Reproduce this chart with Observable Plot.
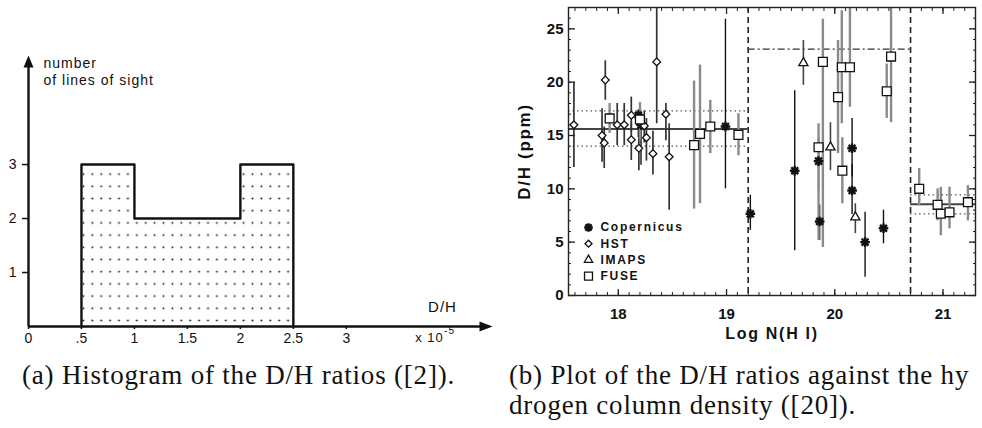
<!DOCTYPE html>
<html><head><meta charset="utf-8">
<script src="https://cdn.jsdelivr.net/npm/d3@7"></script>
<script src="https://cdn.jsdelivr.net/npm/@observablehq/plot@0.6"></script>
<style>
html,body{margin:0;padding:0;background:#fff;}
#root{position:relative;width:982px;height:428px;overflow:hidden;background:#fff;}
#pa{position:absolute;left:0;top:0;}
#pb{position:absolute;left:500px;top:0;}
#pa g[aria-label="text"] text{letter-spacing:1px;}
#pb g[aria-label="text"] text{letter-spacing:1.7px;}
.cap{position:absolute;font-family:"Liberation Serif","Times New Roman",serif;font-size:27px;letter-spacing:0.8px;line-height:30px;white-space:nowrap;color:#111;}
</style></head><body>
<div id="root">
  <div id="pa"></div>
  <div id="pb"></div>
  <div class="cap" id="capa" style="left:22px;top:360px"></div>
  <div class="cap" id="capb" style="left:509px;top:360px"></div>
</div>
<script>
// ---------- Panel (a): histogram of D/H ----------
const binLo = [0.5, 1, 2];
const binHi = [1, 2, 2.5];
const binCount = [3, 2, 3];
const aXTicks = [0, 0.5, 1, 1.5, 2, 2.5, 3];
const aXTickLabels = ["0", ".5", "1", "1.5", "2", "2.5", "3"];
const aYTicks = [1, 2, 3];
const aYTickLabels = ["1", "2", "3"];
const aYLabel = ["number", "of lines of sight"];
const aXLabel = "D/H";
const aXUnit = "x 10";
const aXUnitExp = "-5";
const aDomainX = [0, 4.38];
const aDomainY = [0, 5.02];

// ---------- Panel (b): D/H vs log N(H I) ----------
// [logN, D/H, errLow, errHigh]
const copernicus = [
  [18.185, 16.9, 14.8, 17.4],
  [18.21, 16.0, 12.2, 17.2],
  [18.99, 15.85, 10.0, 25.9],
  [19.22, 7.66, 6.1, 9.4],
  [19.63, 11.7, 4.2, 19.2],
  [19.85, 12.6, 9.8, 14.8],
  [19.86, 6.94, 5.15, 8.5],
  [20.16, 13.8, 11.1, 16.6],
  [20.16, 9.84, 7.6, 12.3],
  [20.28, 5.0, 1.7, 7.8],
  [20.45, 6.3, 4.85, 8.0]
];
const hst = [
  [17.59, 16.0, 12.0, 20.0],
  [17.85, 15.0, 12.5, 17.5],
  [17.87, 14.3, 11.9, 15.8],
  [17.88, 20.2, 18.3, 22.0],
  [17.99, 16.0, 14.05, 18.0],
  [18.055, 16.0, 14.05, 18.0],
  [18.12, 16.9, 15.3, 18.6],
  [18.12, 14.6, 12.65, 16.2],
  [18.19, 13.8, 11.7, 15.9],
  [18.24, 15.9, 14.3, 17.3],
  [18.26, 14.8, 12.6, 16.6],
  [18.32, 13.3, 11.3, 15.4],
  [18.355, 21.9, 16.1, 27.0],
  [18.44, 17.0, 14.5, 18.0],
  [18.47, 13.0, 8.0, 16.1]
];
const imaps = [
  [19.71, 21.8, 19.7, 23.9],
  [19.96, 13.9, 11.7, 16.2],
  [20.19, 7.34, 5.8, 8.6]
];
const fuse = [
  [17.92, 16.6, 15.2, 18.0],
  [18.2, 16.5, 14.6, 18.1],
  [18.70, 14.1, 8.1, 20.1],
  [18.755, 15.15, 8.6, 21.6],
  [18.85, 15.84, 13.3, 18.3],
  [19.11, 15.06, 13.1, 17.05],
  [19.85, 13.9, 5.15, 16.1],
  [19.89, 21.9, 4.5, 25.9],
  [20.03, 18.6, 13.3, 23.9],
  [20.065, 21.4, 16.1, 26.7],
  [20.07, 11.7, 8.6, 14.8],
  [20.14, 21.4, 17.65, 27.0],
  [20.48, 19.15, 16.6, 21.7],
  [20.52, 22.4, 16.2, 26.9],
  [20.78, 10.0, 8.4, 11.9],
  [20.95, 8.5, 7.0, 10.0],
  [20.98, 7.66, 5.6, 10.15],
  [21.06, 7.8, 6.25, 10.15],
  [21.23, 8.75, 7.0, 10.3]
];
const regionEdges = [17.54, 19.2, 20.7, 21.3];
const regionMean = [15.6, null, 8.55];
const regionSigmaLo = [14.0, null, 7.66];
const regionSigmaHi = [17.3, null, 9.44];
const regionUpper = [null, 23.1, null];
const bXMajor = [18, 19, 20, 21];
const bYMajor = [0, 5, 10, 15, 20, 25];
const bDomainX = [17.54, 21.3];
const bDomainY = [0, 27];
const legendNames = ["Copernicus", "HST", "IMAPS", "FUSE"];
const bXLabel = "Log N(H I)";
const bYLabel = "D/H (ppm)";

const captionA = "(a) Histogram of the D/H ratios ([2]).";
const captionB = ["(b) Plot of the D/H ratios against the hy", "drogen column density ([20])."];

// ---------- symbols ----------
const arrowUp = {draw(ctx){ctx.moveTo(0,0);ctx.lineTo(5,12);ctx.lineTo(-5,12);ctx.closePath();}};
const arrowRight = {draw(ctx){ctx.moveTo(0,0);ctx.lineTo(-13,-5);ctx.lineTo(-13,5);ctx.closePath();}};
const starSym = {draw(ctx, size){
  const r = Math.sqrt(size/Math.PI), d = r*0.72;
  ctx.moveTo(-r,0);ctx.lineTo(r,0);ctx.moveTo(0,-r);ctx.lineTo(0,r);
  ctx.moveTo(-d,-d);ctx.lineTo(d,d);ctx.moveTo(-d,d);ctx.lineTo(d,-d);
}};

// ---------- build panel (a) ----------
const bins = binLo.map((lo,i)=>({lo, hi: binHi[i], count: binCount[i]}));
const outline = [{x: binLo[0], y: 0}, ...bins.map(b=>({x: b.lo, y: b.count})), {x: binHi[binHi.length-1], y: 0}];
const aXLabelMap = new Map(aXTicks.map((t,i)=>[t, aXTickLabels[i]]));
const aYLabelMap = new Map(aYTicks.map((t,i)=>[t, aYTickLabels[i]]));
const ink = "#111";
const mid = {textAnchor: "middle", lineAnchor: "middle"};

const plotA = Plot.plot({
  width: 500, height: 350,
  marginLeft: 28, marginRight: 8, marginTop: 55, marginBottom: 24,
  x: {domain: aDomainX}, y: {domain: aDomainY},
  style: {fontFamily: "'Liberation Sans', Arial, sans-serif", fontSize: "14px", color: ink, background: "transparent", overflow: "visible"},
  marks: [
    Plot.rectY(bins, {x1: "lo", x2: "hi", y: "count", fill: "url(#dots)"}),
    Plot.line(outline, {x: "x", y: "y", curve: "step-after", stroke: ink, strokeWidth: 2.4}),
    Plot.ruleY([aDomainY[0]], {stroke: ink, strokeWidth: 2.4, insetRight: 8}),
    Plot.ruleX([aDomainX[0]], {stroke: ink, strokeWidth: 2.4, insetTop: 8}),
    Plot.dot([[aDomainX[0], aDomainY[1]]], {x: d=>d[0], y: d=>d[1], symbol: arrowUp, r: 5, fill: ink, stroke: "none"}),
    Plot.dot([[aDomainX[1], aDomainY[0]]], {x: d=>d[0], y: d=>d[1], symbol: arrowRight, r: 5, fill: ink, stroke: "none"}),
    Plot.axisX(aXTicks, {anchor: "bottom", tickSize: 3, tickPadding: 4, tickFormat: d => aXLabelMap.get(d), label: null, fontSize: 14, strokeWidth: 1.5}),
    Plot.axisY(aYTicks, {anchor: "left", tickSize: 6, tickPadding: 6, tickFormat: d => aYLabelMap.get(d), label: null, fontSize: 14, strokeWidth: 1.5}),
    Plot.text([aYLabel[0]], {frameAnchor: "top-left", dx: 15, dy: 8.5, textAnchor: "start", lineAnchor: "middle", fontSize: 14}),
    Plot.text([aYLabel[1]], {frameAnchor: "top-left", dx: 15, dy: 25, textAnchor: "start", lineAnchor: "middle", fontSize: 14}),
    Plot.text([aXLabel], {frameAnchor: "bottom-right", dx: -50, dy: -19, fontSize: 15, ...mid}),
    Plot.text([aXUnit], {frameAnchor: "bottom-right", dx: -63, dy: 11, fontSize: 13, ...mid}),
    Plot.text([aXUnitExp], {frameAnchor: "bottom-right", dx: -43, dy: 4, fontSize: 10, ...mid})
  ]
});
// dotted pattern
const NS = "http://www.w3.org/2000/svg";
const defs = document.createElementNS(NS, "defs");
const pat = document.createElementNS(NS, "pattern");
pat.setAttribute("id", "dots"); pat.setAttribute("patternUnits", "userSpaceOnUse");
pat.setAttribute("width", "8.9"); pat.setAttribute("height", "12.2");
pat.setAttribute("x", "79"); pat.setAttribute("y", "168");
const c = document.createElementNS(NS, "circle");
c.setAttribute("cx", "4.4"); c.setAttribute("cy", "6.1"); c.setAttribute("r", "1"); c.setAttribute("fill", "#1a1a1a");
pat.appendChild(c); defs.appendChild(pat);
plotA.insertBefore(defs, plotA.firstChild);
document.getElementById("pa").appendChild(plotA);

// ---------- build panel (b) ----------
const regions = regionMean.map((m,i)=>({x1: regionEdges[i], x2: regionEdges[i+1], mean: m, lo: regionSigmaLo[i], hi: regionSigmaHi[i], up: regionUpper[i]}));
const sigmaLines = regions.filter(d=>d.lo!=null).flatMap(d=>[{...d, v: d.lo}, {...d, v: d.hi}]);
const minorX = d3.range(176, 214).map(v=>v/10);
const minorY = d3.range(0, 28);
const series = [
  {name: "Copernicus", data: copernicus, symbol: starSym, r: 4.8, fill: "none", sw: 2.4, bar: "#111", barW: 1.4},
  {name: "HST", data: hst, symbol: "diamond2", r: 3.5, fill: "white", sw: 1.3, bar: "#333", barW: 1.7},
  {name: "IMAPS", data: imaps, symbol: "triangle", r: 3.4, fill: "white", sw: 1.3, bar: "#444", barW: 1.6},
  {name: "FUSE", data: fuse, symbol: "square", r: 5.0, fill: "white", sw: 1.3, bar: "#8a8a8a", barW: 2.4}
];
const bFont = {fontWeight: "bold"};
const plotB = Plot.plot({
  width: 482, height: 345,
  marginLeft: 68, marginRight: 7, marginTop: 7, marginBottom: 50,
  x: {domain: bDomainX}, y: {domain: bDomainY},
  style: {fontFamily: "'Liberation Sans', Arial, sans-serif", fontSize: "15px", fontWeight: "bold", color: ink, background: "transparent", overflow: "visible"},
  marks: [
    Plot.ruleX(regionEdges.slice(1, -1), {stroke: "#222", strokeWidth: 1.6, strokeDasharray: "6,4"}),
    Plot.ruleY(regions.filter(d=>d.mean!=null), {y: "mean", x1: "x1", x2: "x2", stroke: "#444", strokeWidth: 2}),
    Plot.ruleY(sigmaLines, {y: "v", x1: "x1", x2: "x2", stroke: "#555", strokeWidth: 1.3, strokeDasharray: "1.5,3"}),
    Plot.ruleY(regions.filter(d=>d.up!=null), {y: "up", x1: "x1", x2: "x2", stroke: "#333", strokeWidth: 1.3, strokeDasharray: "7,3,2,3"}),
    ...series.map(s => Plot.ruleX(s.data, {x: d=>d[0], y1: d=>d[2], y2: d=>d[3], stroke: s.bar, strokeWidth: s.barW})),
    ...series.map(s => Plot.dot(s.data, {x: d=>d[0], y: d=>d[1], symbol: s.symbol, r: s.r, fill: s.fill, stroke: ink, strokeWidth: s.sw})),
    ...series.map((s,i) => Plot.dot([s.name], {frameAnchor: "bottom-left", dx: 20, dy: -68 + i*16.2, symbol: s.symbol, r: s.r*0.9, fill: s.fill, stroke: ink, strokeWidth: s.sw})),
    ...legendNames.map((n,i) => Plot.text([n], {frameAnchor: "bottom-left", dx: 32, dy: -68 + i*16.2, textAnchor: "start", lineAnchor: "middle", fontSize: 12, ...bFont})),
    Plot.frame({stroke: "#222", strokeWidth: 1.4}),
    Plot.axisX(minorX, {anchor: "bottom", tickSize: -3, tickFormat: () => "", label: null, stroke: "#222"}),
    Plot.axisX(minorX, {anchor: "top", tickSize: -3, tickFormat: () => "", label: null, stroke: "#222"}),
    Plot.axisX(bXMajor, {anchor: "bottom", tickSize: -6, tickFormat: () => "", label: null, stroke: "#222", strokeWidth: 1.3}),
    Plot.axisX(bXMajor, {anchor: "top", tickSize: -6, tickFormat: () => "", label: null, stroke: "#222", strokeWidth: 1.3}),
    Plot.axisY(minorY, {anchor: "left", tickSize: -3, tickFormat: () => "", label: null, stroke: "#222"}),
    Plot.axisY(minorY, {anchor: "right", tickSize: -3, tickFormat: () => "", label: null, stroke: "#222"}),
    Plot.axisY(bYMajor, {anchor: "left", tickSize: -7, tickFormat: () => "", label: null, stroke: "#222", strokeWidth: 1.3}),
    Plot.axisY(bYMajor, {anchor: "right", tickSize: -7, tickFormat: () => "", label: null, stroke: "#222", strokeWidth: 1.3}),
    Plot.axisX(bXMajor, {anchor: "bottom", tickSize: 0, tickPadding: 13, label: null, fontSize: 15, ...bFont}),
    Plot.axisY(bYMajor, {anchor: "left", tickSize: 0, tickPadding: 5, label: null, fontSize: 15, ...bFont}),
    Plot.text([bXLabel], {frameAnchor: "bottom", dy: 38, fontSize: 16, ...bFont, ...mid}),
    Plot.text([bYLabel], {frameAnchor: "left", dx: -44, rotate: -90, fontSize: 17, ...bFont, ...mid})
  ]
});
document.getElementById("pb").appendChild(plotB);

document.getElementById("capa").textContent = captionA;
document.getElementById("capb").innerHTML = captionB.join("<br>");
</script>
</body></html>
